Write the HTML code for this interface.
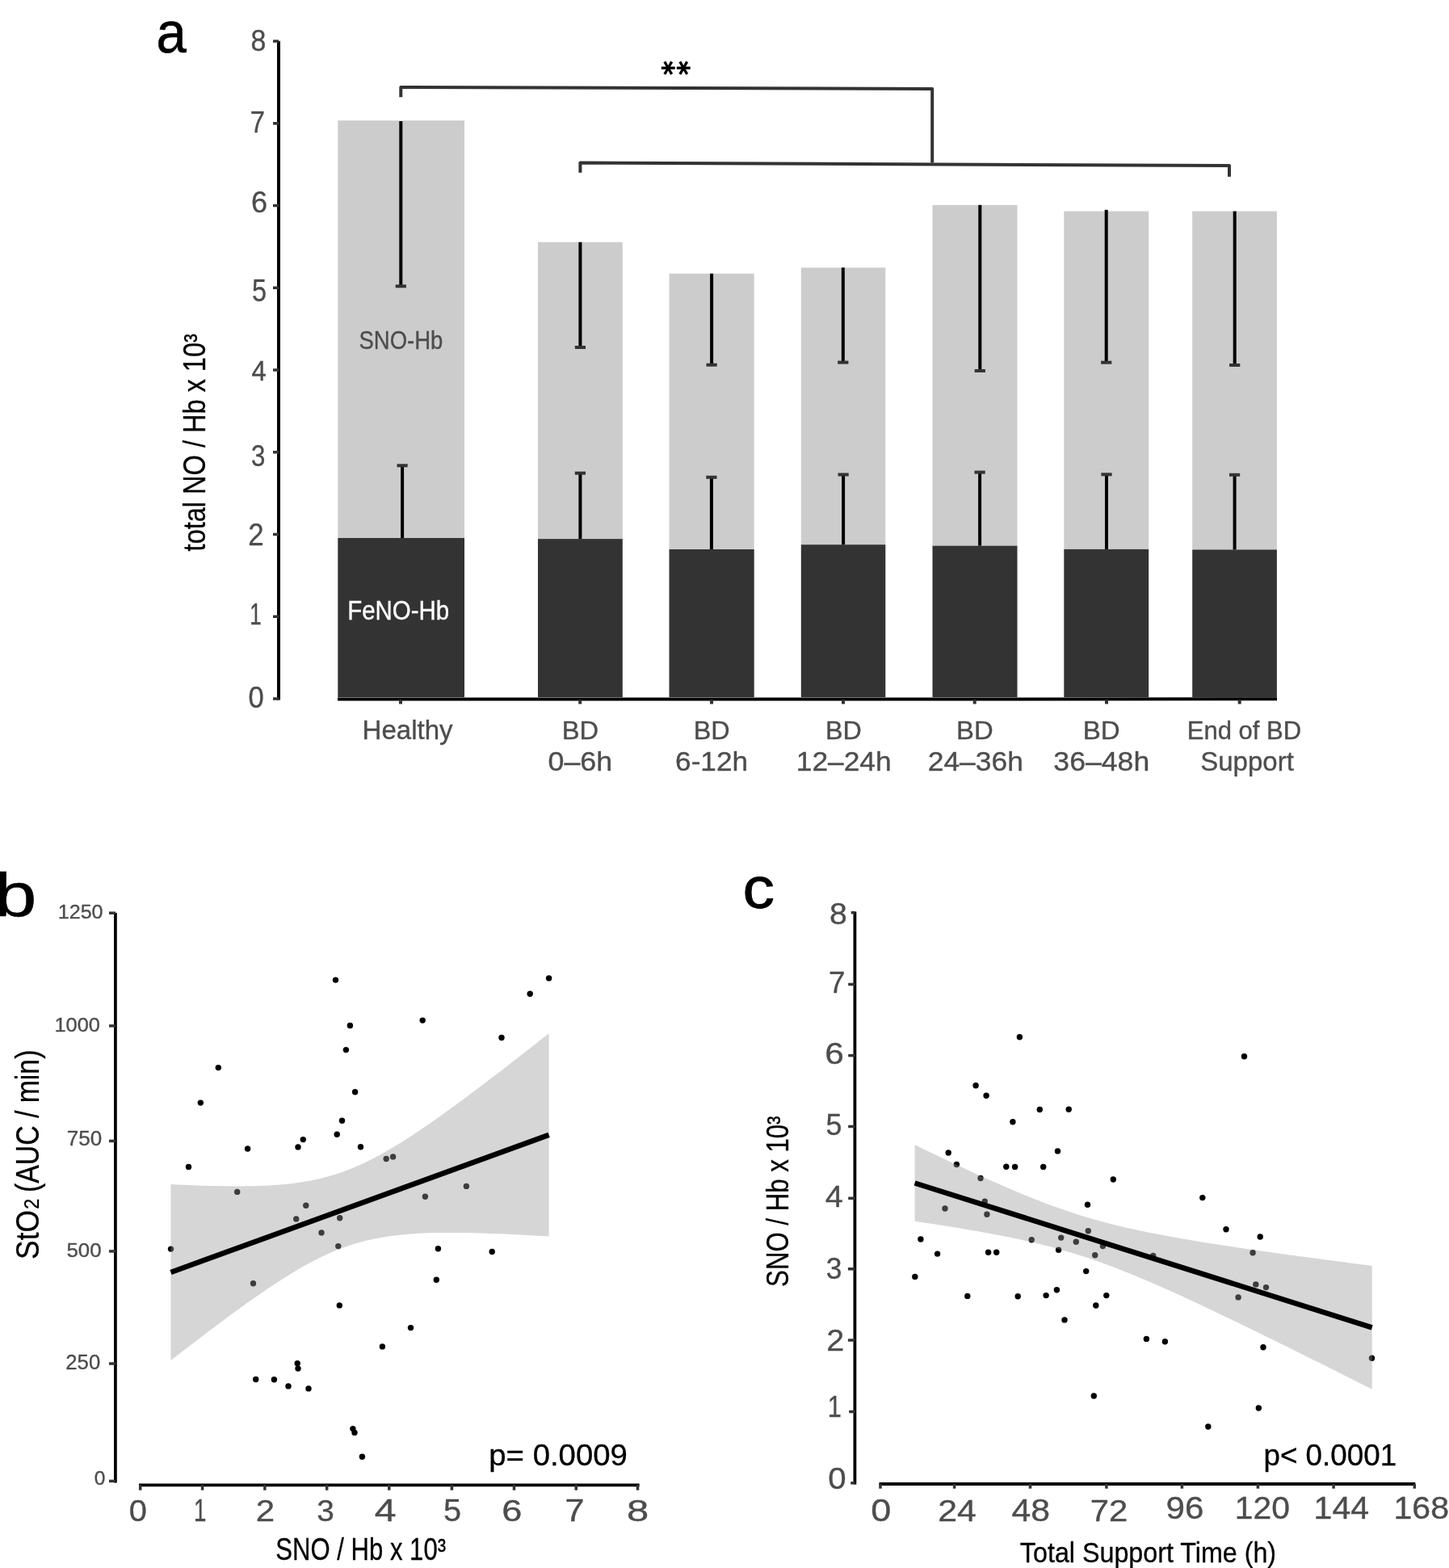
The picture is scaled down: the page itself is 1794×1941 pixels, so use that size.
<!DOCTYPE html>
<html><head><meta charset="utf-8"><title>Figure</title>
<style>html,body{margin:0;padding:0;background:#fff;}svg{display:block;}</style></head>
<body><svg width="1794" height="1941" viewBox="0 0 1794 1941" font-family="'Liberation Sans', sans-serif">
<rect width="1794" height="1941" fill="#fff"/>
<rect x="418.3" y="149.2" width="156.70" height="516.80" fill="#cccccc"/>
<rect x="418.3" y="666.0" width="156.70" height="197.10" fill="#333333"/>
<rect x="666.0" y="299.7" width="104.80" height="367.40" fill="#cccccc"/>
<rect x="666.0" y="667.1" width="104.80" height="196.00" fill="#333333"/>
<rect x="828.5" y="338.7" width="105.20" height="341.30" fill="#cccccc"/>
<rect x="828.5" y="680.0" width="105.20" height="183.10" fill="#333333"/>
<rect x="991.8" y="331.3" width="104.50" height="342.90" fill="#cccccc"/>
<rect x="991.8" y="674.2" width="104.50" height="188.90" fill="#333333"/>
<rect x="1154.5" y="253.8" width="105.00" height="421.80" fill="#cccccc"/>
<rect x="1154.5" y="675.6" width="105.00" height="187.50" fill="#333333"/>
<rect x="1317.3" y="261.5" width="104.90" height="418.40" fill="#cccccc"/>
<rect x="1317.3" y="679.9" width="104.90" height="183.20" fill="#333333"/>
<rect x="1476.2" y="261.5" width="104.70" height="418.90" fill="#cccccc"/>
<rect x="1476.2" y="680.4" width="104.70" height="182.70" fill="#333333"/>
<line x1="496.3" y1="149.9" x2="496.3" y2="354.3" stroke="#000" stroke-width="4"/>
<line x1="489.7" y1="354.3" x2="502.90000000000003" y2="354.3" stroke="#333333" stroke-width="4"/>
<line x1="718.4" y1="299.7" x2="718.4" y2="430.0" stroke="#000" stroke-width="4"/>
<line x1="711.8" y1="430.0" x2="725.0" y2="430.0" stroke="#333333" stroke-width="4"/>
<line x1="881.1" y1="338.7" x2="881.1" y2="451.7" stroke="#000" stroke-width="4"/>
<line x1="874.5" y1="451.7" x2="887.7" y2="451.7" stroke="#333333" stroke-width="4"/>
<line x1="1043.8" y1="331.3" x2="1043.8" y2="448.6" stroke="#000" stroke-width="4"/>
<line x1="1037.2" y1="448.6" x2="1050.3999999999999" y2="448.6" stroke="#333333" stroke-width="4"/>
<line x1="1213.3" y1="253.8" x2="1213.3" y2="459.0" stroke="#000" stroke-width="4"/>
<line x1="1206.7" y1="459.0" x2="1219.8999999999999" y2="459.0" stroke="#333333" stroke-width="4"/>
<line x1="1369.7" y1="259.7" x2="1369.7" y2="448.7" stroke="#000" stroke-width="4"/>
<line x1="1363.1000000000001" y1="448.7" x2="1376.3" y2="448.7" stroke="#333333" stroke-width="4"/>
<line x1="1528.7" y1="261.5" x2="1528.7" y2="452.0" stroke="#000" stroke-width="4"/>
<line x1="1522.1000000000001" y1="452.0" x2="1535.3" y2="452.0" stroke="#333333" stroke-width="4"/>
<line x1="498.1" y1="576.3" x2="498.1" y2="666.0" stroke="#000" stroke-width="4"/>
<line x1="491.5" y1="576.3" x2="504.70000000000005" y2="576.3" stroke="#333333" stroke-width="4"/>
<line x1="718.4" y1="585.7" x2="718.4" y2="667.1" stroke="#000" stroke-width="4"/>
<line x1="711.8" y1="585.7" x2="725.0" y2="585.7" stroke="#333333" stroke-width="4"/>
<line x1="880.9" y1="590.8" x2="880.9" y2="680.0" stroke="#000" stroke-width="4"/>
<line x1="874.3" y1="590.8" x2="887.5" y2="590.8" stroke="#333333" stroke-width="4"/>
<line x1="1044.1" y1="587.5" x2="1044.1" y2="674.2" stroke="#000" stroke-width="4"/>
<line x1="1037.5" y1="587.5" x2="1050.6999999999998" y2="587.5" stroke="#333333" stroke-width="4"/>
<line x1="1213.1" y1="584.6" x2="1213.1" y2="675.6" stroke="#000" stroke-width="4"/>
<line x1="1206.5" y1="584.6" x2="1219.6999999999998" y2="584.6" stroke="#333333" stroke-width="4"/>
<line x1="1370.0" y1="587.3" x2="1370.0" y2="679.9" stroke="#000" stroke-width="4"/>
<line x1="1363.4" y1="587.3" x2="1376.6" y2="587.3" stroke="#333333" stroke-width="4"/>
<line x1="1528.6" y1="587.8" x2="1528.6" y2="680.4" stroke="#000" stroke-width="4"/>
<line x1="1522.0" y1="587.8" x2="1535.1999999999998" y2="587.8" stroke="#333333" stroke-width="4"/>
<line x1="418" y1="865.6" x2="1581" y2="865.3" stroke="#000" stroke-width="4"/>
<line x1="496.0" y1="866" x2="496.0" y2="871.5" stroke="#333333" stroke-width="4"/>
<line x1="718.2" y1="866" x2="718.2" y2="871.5" stroke="#333333" stroke-width="4"/>
<line x1="881.0" y1="866" x2="881.0" y2="871.5" stroke="#333333" stroke-width="4"/>
<line x1="1044.0" y1="866" x2="1044.0" y2="871.5" stroke="#333333" stroke-width="4"/>
<line x1="1206.7" y1="866" x2="1206.7" y2="871.5" stroke="#333333" stroke-width="4"/>
<line x1="1370.0" y1="866" x2="1370.0" y2="871.5" stroke="#333333" stroke-width="4"/>
<line x1="1534.7" y1="866" x2="1534.7" y2="871.5" stroke="#333333" stroke-width="4"/>
<line x1="345" y1="50.8" x2="345" y2="866.5" stroke="#000" stroke-width="4"/>
<line x1="338" y1="865.00" x2="345" y2="865.00" stroke="#333333" stroke-width="3.5"/>
<line x1="338" y1="763.25" x2="345" y2="763.25" stroke="#333333" stroke-width="3.5"/>
<line x1="338" y1="661.50" x2="345" y2="661.50" stroke="#333333" stroke-width="3.5"/>
<line x1="338" y1="559.75" x2="345" y2="559.75" stroke="#333333" stroke-width="3.5"/>
<line x1="338" y1="458.00" x2="345" y2="458.00" stroke="#333333" stroke-width="3.5"/>
<line x1="338" y1="356.25" x2="345" y2="356.25" stroke="#333333" stroke-width="3.5"/>
<line x1="338" y1="254.50" x2="345" y2="254.50" stroke="#333333" stroke-width="3.5"/>
<line x1="338" y1="152.75" x2="345" y2="152.75" stroke="#333333" stroke-width="3.5"/>
<line x1="338" y1="51.00" x2="345" y2="51.00" stroke="#333333" stroke-width="3.5"/>
<path d="M496.3,120.2 V108 L1154.2,110 V201.6" fill="none" stroke="#333333" stroke-width="4" stroke-linejoin="round"/>
<path d="M718.4,213.8 V201.6 L1522,205 V218.7" fill="none" stroke="#333333" stroke-width="4" stroke-linejoin="round"/>
<circle cx="415.5" cy="1213.1" r="3.7" fill="#000"/>
<circle cx="433.4" cy="1269.5" r="3.7" fill="#000"/>
<circle cx="428.4" cy="1299.6" r="3.7" fill="#000"/>
<circle cx="270.3" cy="1321.6" r="3.7" fill="#000"/>
<circle cx="439.6" cy="1351.7" r="3.7" fill="#000"/>
<circle cx="248.3" cy="1365.1" r="3.7" fill="#000"/>
<circle cx="423.5" cy="1387.2" r="3.7" fill="#000"/>
<circle cx="417.2" cy="1404.3" r="3.7" fill="#000"/>
<circle cx="375.3" cy="1410.6" r="3.7" fill="#000"/>
<circle cx="306.6" cy="1422" r="3.7" fill="#000"/>
<circle cx="369" cy="1419.9" r="3.7" fill="#000"/>
<circle cx="446.5" cy="1419.7" r="3.7" fill="#000"/>
<circle cx="233.5" cy="1444.5" r="3.7" fill="#000"/>
<circle cx="679.6" cy="1210.9" r="3.7" fill="#000"/>
<circle cx="656.2" cy="1230.2" r="3.7" fill="#000"/>
<circle cx="523.2" cy="1263.1" r="3.7" fill="#000"/>
<circle cx="621" cy="1284.5" r="3.7" fill="#000"/>
<circle cx="420.3" cy="1615.9" r="3.7" fill="#000"/>
<circle cx="368.2" cy="1687.8" r="3.7" fill="#000"/>
<circle cx="369" cy="1694.1" r="3.7" fill="#000"/>
<circle cx="316.7" cy="1707.5" r="3.7" fill="#000"/>
<circle cx="339.4" cy="1707.8" r="3.7" fill="#000"/>
<circle cx="357" cy="1715.9" r="3.7" fill="#000"/>
<circle cx="382" cy="1718.9" r="3.7" fill="#000"/>
<circle cx="542.4" cy="1545.8" r="3.7" fill="#000"/>
<circle cx="609.2" cy="1549.5" r="3.7" fill="#000"/>
<circle cx="540.3" cy="1584.2" r="3.7" fill="#000"/>
<circle cx="508.5" cy="1643.6" r="3.7" fill="#000"/>
<circle cx="473.4" cy="1666.9" r="3.7" fill="#000"/>
<circle cx="436.9" cy="1768.6" r="3.7" fill="#000"/>
<circle cx="439" cy="1773.4" r="3.7" fill="#000"/>
<circle cx="448.4" cy="1803.3" r="3.7" fill="#000"/>
<circle cx="293.7" cy="1475.4" r="3.7" fill="#000"/>
<circle cx="478.2" cy="1434.5" r="3.7" fill="#000"/>
<circle cx="486.6" cy="1431.9" r="3.7" fill="#000"/>
<circle cx="577.4" cy="1468.4" r="3.7" fill="#000"/>
<circle cx="526.4" cy="1481.2" r="3.7" fill="#000"/>
<circle cx="378.8" cy="1492.2" r="3.7" fill="#000"/>
<circle cx="366.7" cy="1508.9" r="3.7" fill="#000"/>
<circle cx="420.7" cy="1507.8" r="3.7" fill="#000"/>
<circle cx="398" cy="1525.9" r="3.7" fill="#000"/>
<circle cx="418.8" cy="1542.6" r="3.7" fill="#000"/>
<circle cx="313.5" cy="1588.8" r="3.7" fill="#000"/>
<circle cx="211.5" cy="1546.1" r="3.7" fill="#000"/>
<path d="M211.50,1466.00 L219.30,1466.39 L227.10,1466.75 L234.91,1467.08 L242.71,1467.39 L250.51,1467.66 L258.31,1467.90 L266.11,1468.10 L273.91,1468.26 L281.72,1468.37 L289.52,1468.43 L297.32,1468.43 L305.12,1468.36 L312.92,1468.22 L320.72,1467.99 L328.52,1467.67 L336.33,1467.25 L344.13,1466.71 L351.93,1466.04 L359.73,1465.22 L367.53,1464.24 L375.34,1463.08 L383.14,1461.73 L390.94,1460.16 L398.74,1458.36 L406.54,1456.31 L414.34,1454.00 L422.14,1451.43 L429.95,1448.58 L437.75,1445.46 L445.55,1442.07 L453.35,1438.43 L461.15,1434.54 L468.96,1430.42 L476.76,1426.09 L484.56,1421.56 L492.36,1416.85 L500.16,1411.99 L507.96,1406.97 L515.77,1401.83 L523.57,1396.58 L531.37,1391.22 L539.17,1385.76 L546.97,1380.23 L554.77,1374.62 L562.58,1368.95 L570.38,1363.22 L578.18,1357.43 L585.98,1351.60 L593.78,1345.73 L601.58,1339.82 L609.38,1333.87 L617.19,1327.89 L624.99,1321.88 L632.79,1315.85 L640.59,1309.79 L648.39,1303.71 L656.19,1297.61 L664.00,1291.49 L671.80,1285.36 L679.60,1279.21 L679.60,1530.59 L671.80,1530.11 L664.00,1529.65 L656.19,1529.20 L648.39,1528.77 L640.59,1528.36 L632.79,1527.97 L624.99,1527.61 L617.19,1527.27 L609.38,1526.96 L601.58,1526.68 L593.78,1526.44 L585.98,1526.24 L578.18,1526.08 L570.38,1525.96 L562.58,1525.90 L554.77,1525.90 L546.97,1525.96 L539.17,1526.10 L531.37,1526.31 L523.57,1526.62 L515.77,1527.04 L507.96,1527.57 L500.16,1528.22 L492.36,1529.03 L484.56,1529.99 L476.76,1531.13 L468.96,1532.47 L461.15,1534.02 L453.35,1535.80 L445.55,1537.83 L437.75,1540.11 L429.95,1542.66 L422.14,1545.48 L414.34,1548.58 L406.54,1551.94 L398.74,1555.56 L390.94,1559.43 L383.14,1563.53 L375.34,1567.85 L367.53,1572.36 L359.73,1577.05 L351.93,1581.90 L344.13,1586.90 L336.33,1592.03 L328.52,1597.28 L320.72,1602.63 L312.92,1608.07 L305.12,1613.60 L297.32,1619.20 L289.52,1624.87 L281.72,1630.60 L273.91,1636.38 L266.11,1642.21 L258.31,1648.08 L250.51,1653.99 L242.71,1659.93 L234.91,1665.91 L227.10,1671.91 L219.30,1677.94 L211.50,1684.00 Z" fill="#999999" fill-opacity="0.4"/>
<line x1="211.5" y1="1575" x2="679.6" y2="1404.9" stroke="#000" stroke-width="6.5"/>
<line x1="142.9" y1="1130" x2="142.9" y2="1835.5" stroke="#000" stroke-width="3.8"/>
<line x1="135" y1="1130.2" x2="143" y2="1130.2" stroke="#333333" stroke-width="3.5"/>
<line x1="135" y1="1269.9" x2="143" y2="1269.9" stroke="#333333" stroke-width="3.5"/>
<line x1="135" y1="1412.4" x2="143" y2="1412.4" stroke="#333333" stroke-width="3.5"/>
<line x1="135" y1="1548.9" x2="143" y2="1548.9" stroke="#333333" stroke-width="3.5"/>
<line x1="135" y1="1688.0" x2="143" y2="1688.0" stroke="#333333" stroke-width="3.5"/>
<line x1="135" y1="1833.4" x2="143" y2="1833.4" stroke="#333333" stroke-width="3.5"/>
<line x1="172" y1="1838.3" x2="791.6" y2="1838.3" stroke="#000" stroke-width="3.8"/>
<line x1="173.7" y1="1838" x2="173.7" y2="1844.7" stroke="#333333" stroke-width="3.5"/>
<line x1="250.6" y1="1838" x2="250.6" y2="1844.7" stroke="#333333" stroke-width="3.5"/>
<line x1="327.9" y1="1838" x2="327.9" y2="1844.7" stroke="#333333" stroke-width="3.5"/>
<line x1="404.7" y1="1838" x2="404.7" y2="1844.7" stroke="#333333" stroke-width="3.5"/>
<line x1="481.8" y1="1838" x2="481.8" y2="1844.7" stroke="#333333" stroke-width="3.5"/>
<line x1="559.4" y1="1838" x2="559.4" y2="1844.7" stroke="#333333" stroke-width="3.5"/>
<line x1="636.5" y1="1838" x2="636.5" y2="1844.7" stroke="#333333" stroke-width="3.5"/>
<line x1="713.2" y1="1838" x2="713.2" y2="1844.7" stroke="#333333" stroke-width="3.5"/>
<line x1="789.5" y1="1838" x2="789.5" y2="1844.7" stroke="#333333" stroke-width="3.5"/>
<circle cx="1262.4" cy="1283.8" r="3.7" fill="#000"/>
<circle cx="1208.1" cy="1343.7" r="3.7" fill="#000"/>
<circle cx="1221.1" cy="1356.2" r="3.7" fill="#000"/>
<circle cx="1287.3" cy="1373.5" r="3.7" fill="#000"/>
<circle cx="1323.2" cy="1373.2" r="3.7" fill="#000"/>
<circle cx="1253.9" cy="1388.8" r="3.7" fill="#000"/>
<circle cx="1174.2" cy="1427" r="3.7" fill="#000"/>
<circle cx="1309.5" cy="1424.9" r="3.7" fill="#000"/>
<circle cx="1245.8" cy="1444.3" r="3.7" fill="#000"/>
<circle cx="1256.6" cy="1444.4" r="3.7" fill="#000"/>
<circle cx="1291.7" cy="1444.4" r="3.7" fill="#000"/>
<circle cx="1378.3" cy="1460" r="3.7" fill="#000"/>
<circle cx="1346.5" cy="1491.2" r="3.7" fill="#000"/>
<circle cx="1139.9" cy="1534" r="3.7" fill="#000"/>
<circle cx="1160.6" cy="1552.1" r="3.7" fill="#000"/>
<circle cx="1223.6" cy="1550.2" r="3.7" fill="#000"/>
<circle cx="1233.7" cy="1550.2" r="3.7" fill="#000"/>
<circle cx="1132.8" cy="1580.4" r="3.7" fill="#000"/>
<circle cx="1197.8" cy="1604.4" r="3.7" fill="#000"/>
<circle cx="1260.2" cy="1604.8" r="3.7" fill="#000"/>
<circle cx="1295.1" cy="1603.6" r="3.7" fill="#000"/>
<circle cx="1308.4" cy="1596.8" r="3.7" fill="#000"/>
<circle cx="1344.7" cy="1573.6" r="3.7" fill="#000"/>
<circle cx="1369.8" cy="1603.6" r="3.7" fill="#000"/>
<circle cx="1356.8" cy="1616" r="3.7" fill="#000"/>
<circle cx="1318" cy="1633.9" r="3.7" fill="#000"/>
<circle cx="1354.3" cy="1728" r="3.7" fill="#000"/>
<circle cx="1540.5" cy="1307.8" r="3.7" fill="#000"/>
<circle cx="1488.8" cy="1482.6" r="3.7" fill="#000"/>
<circle cx="1518" cy="1521.8" r="3.7" fill="#000"/>
<circle cx="1560.2" cy="1531" r="3.7" fill="#000"/>
<circle cx="1419.4" cy="1657.4" r="3.7" fill="#000"/>
<circle cx="1442.4" cy="1660.7" r="3.7" fill="#000"/>
<circle cx="1564" cy="1667.7" r="3.7" fill="#000"/>
<circle cx="1558.3" cy="1743" r="3.7" fill="#000"/>
<circle cx="1495.8" cy="1766" r="3.7" fill="#000"/>
<circle cx="1184.4" cy="1441.5" r="3.7" fill="#000"/>
<circle cx="1214" cy="1458.5" r="3.7" fill="#000"/>
<circle cx="1219.3" cy="1487.1" r="3.7" fill="#000"/>
<circle cx="1170" cy="1496" r="3.7" fill="#000"/>
<circle cx="1221.9" cy="1503.3" r="3.7" fill="#000"/>
<circle cx="1347.3" cy="1523.7" r="3.7" fill="#000"/>
<circle cx="1277.2" cy="1534.8" r="3.7" fill="#000"/>
<circle cx="1313.7" cy="1532.1" r="3.7" fill="#000"/>
<circle cx="1332.3" cy="1537.2" r="3.7" fill="#000"/>
<circle cx="1365.4" cy="1542.6" r="3.7" fill="#000"/>
<circle cx="1310.6" cy="1547.2" r="3.7" fill="#000"/>
<circle cx="1355.7" cy="1553.8" r="3.7" fill="#000"/>
<circle cx="1551.1" cy="1550.7" r="3.7" fill="#000"/>
<circle cx="1427.7" cy="1554.5" r="3.7" fill="#000"/>
<circle cx="1554.8" cy="1589.9" r="3.7" fill="#000"/>
<circle cx="1567.5" cy="1593.6" r="3.7" fill="#000"/>
<circle cx="1533.1" cy="1605.9" r="3.7" fill="#000"/>
<circle cx="1698.5" cy="1681.3" r="3.7" fill="#000"/>
<path d="M1132.60,1417.19 L1142.03,1421.75 L1151.47,1426.30 L1160.90,1430.81 L1170.34,1435.30 L1179.77,1439.75 L1189.21,1444.18 L1198.64,1448.56 L1208.08,1452.90 L1217.51,1457.18 L1226.95,1461.42 L1236.38,1465.59 L1245.82,1469.70 L1255.25,1473.72 L1264.69,1477.67 L1274.12,1481.52 L1283.56,1485.26 L1292.99,1488.90 L1302.43,1492.41 L1311.87,1495.80 L1321.30,1499.05 L1330.73,1502.17 L1340.17,1505.14 L1349.61,1507.97 L1359.04,1510.67 L1368.47,1513.23 L1377.91,1515.66 L1387.35,1517.97 L1396.78,1520.18 L1406.21,1522.28 L1415.65,1524.29 L1425.09,1526.21 L1434.52,1528.06 L1443.95,1529.84 L1453.39,1531.56 L1462.83,1533.23 L1472.26,1534.85 L1481.69,1536.42 L1491.13,1537.95 L1500.57,1539.46 L1510.00,1540.93 L1519.43,1542.37 L1528.87,1543.78 L1538.31,1545.18 L1547.74,1546.55 L1557.17,1547.91 L1566.61,1549.25 L1576.05,1550.57 L1585.48,1551.88 L1594.91,1553.17 L1604.35,1554.46 L1613.79,1555.73 L1623.22,1557.00 L1632.65,1558.26 L1642.09,1559.50 L1651.53,1560.74 L1660.96,1561.98 L1670.39,1563.20 L1679.83,1564.42 L1689.27,1565.64 L1698.70,1566.85 L1698.70,1719.75 L1689.27,1715.00 L1679.83,1710.26 L1670.39,1705.52 L1660.96,1700.78 L1651.53,1696.06 L1642.09,1691.34 L1632.65,1686.62 L1623.22,1681.92 L1613.79,1677.23 L1604.35,1672.54 L1594.91,1667.87 L1585.48,1663.20 L1576.05,1658.55 L1566.61,1653.91 L1557.17,1649.29 L1547.74,1644.69 L1538.31,1640.10 L1528.87,1635.54 L1519.43,1630.99 L1510.00,1626.47 L1500.57,1621.98 L1491.13,1617.53 L1481.69,1613.10 L1472.26,1608.71 L1462.83,1604.37 L1453.39,1600.08 L1443.95,1595.84 L1434.52,1591.66 L1425.09,1587.55 L1415.65,1583.51 L1406.21,1579.56 L1396.78,1575.70 L1387.35,1571.95 L1377.91,1568.30 L1368.47,1564.77 L1359.04,1561.37 L1349.61,1558.11 L1340.17,1554.98 L1330.73,1551.99 L1321.30,1549.15 L1311.87,1546.44 L1302.43,1543.87 L1292.99,1541.42 L1283.56,1539.10 L1274.12,1536.88 L1264.69,1534.77 L1255.25,1532.76 L1245.82,1530.82 L1236.38,1528.97 L1226.95,1527.18 L1217.51,1525.46 L1208.08,1523.78 L1198.64,1522.16 L1189.21,1520.58 L1179.77,1519.05 L1170.34,1517.54 L1160.90,1516.07 L1151.47,1514.62 L1142.03,1513.21 L1132.60,1511.81 Z" fill="#999999" fill-opacity="0.4"/>
<line x1="1132.6" y1="1464.5" x2="1698.7" y2="1643.3" stroke="#000" stroke-width="6.5"/>
<line x1="1058.4" y1="1128.5" x2="1058.4" y2="1837.5" stroke="#000" stroke-width="3.8"/>
<line x1="1053.7" y1="1129.7" x2="1058.5" y2="1129.7" stroke="#333333" stroke-width="3.5"/>
<line x1="1050.2" y1="1218.5" x2="1058.5" y2="1218.5" stroke="#333333" stroke-width="3.5"/>
<line x1="1050.2" y1="1306.6" x2="1058.5" y2="1306.6" stroke="#333333" stroke-width="3.5"/>
<line x1="1050.2" y1="1394.5" x2="1058.5" y2="1394.5" stroke="#333333" stroke-width="3.5"/>
<line x1="1050.2" y1="1483.3" x2="1058.5" y2="1483.3" stroke="#333333" stroke-width="3.5"/>
<line x1="1049.9" y1="1570.8" x2="1058.5" y2="1570.8" stroke="#333333" stroke-width="3.5"/>
<line x1="1049.9" y1="1659.0" x2="1058.5" y2="1659.0" stroke="#333333" stroke-width="3.5"/>
<line x1="1051.2" y1="1747.5" x2="1058.5" y2="1747.5" stroke="#333333" stroke-width="3.5"/>
<line x1="1053.2" y1="1835.8" x2="1058.5" y2="1835.8" stroke="#333333" stroke-width="3.5"/>
<line x1="1088.5" y1="1837" x2="1752.3" y2="1837" stroke="#000" stroke-width="3.8"/>
<line x1="1090" y1="1837" x2="1090" y2="1842.7" stroke="#333333" stroke-width="3.5"/>
<line x1="1181.6" y1="1837" x2="1181.6" y2="1842.7" stroke="#333333" stroke-width="3.5"/>
<line x1="1275.5" y1="1837" x2="1275.5" y2="1842.7" stroke="#333333" stroke-width="3.5"/>
<line x1="1369.9" y1="1837" x2="1369.9" y2="1842.7" stroke="#333333" stroke-width="3.5"/>
<line x1="1463.4" y1="1837" x2="1463.4" y2="1842.7" stroke="#333333" stroke-width="3.5"/>
<line x1="1557.4" y1="1837" x2="1557.4" y2="1842.7" stroke="#333333" stroke-width="3.5"/>
<line x1="1651.1" y1="1837" x2="1651.1" y2="1842.7" stroke="#333333" stroke-width="3.5"/>
<line x1="1751.3" y1="1837" x2="1751.3" y2="1842.7" stroke="#333333" stroke-width="3.5"/>
<text x="193.45" y="65.48" font-size="71.96" textLength="37.33" lengthAdjust="spacingAndGlyphs" fill="#000" stroke="#000" stroke-width="0.6">a</text>
<text x="-6.92" y="1133.59" font-size="76.19" textLength="52.40" lengthAdjust="spacingAndGlyphs" fill="#000" stroke="#000" stroke-width="0.5">b</text>
<text x="919.45" y="1123.98" font-size="71.60" textLength="39.42" lengthAdjust="spacingAndGlyphs" fill="#000" stroke="#000" stroke-width="0.8">c</text>
<text x="819.27" y="101.87" font-size="34.5" font-family="'DejaVu Sans', sans-serif" fill="#000" stroke="#000" stroke-width="1.5" transform="rotate(90 827.9 84.1)">*</text>
<text x="838.08" y="101.87" font-size="34.5" font-family="'DejaVu Sans', sans-serif" fill="#000" stroke="#000" stroke-width="1.5" transform="rotate(90 846.7 84.1)">*</text>
<text x="310.56" y="63.40" font-size="37.56" textLength="18.82" lengthAdjust="spacingAndGlyphs" fill="#4d4d4d" stroke="#4d4d4d" stroke-width="0.35">8</text>
<text x="309.68" y="163.60" font-size="37.82" textLength="18.19" lengthAdjust="spacingAndGlyphs" fill="#4d4d4d" stroke="#4d4d4d" stroke-width="0.35">7</text>
<text x="310.89" y="263.00" font-size="37.85" textLength="20.08" lengthAdjust="spacingAndGlyphs" fill="#4d4d4d" stroke="#4d4d4d" stroke-width="0.35">6</text>
<text x="311.90" y="372.90" font-size="38.40" textLength="18.03" lengthAdjust="spacingAndGlyphs" fill="#4d4d4d" stroke="#4d4d4d" stroke-width="0.35">5</text>
<text x="311.46" y="470.70" font-size="35.93" textLength="18.17" lengthAdjust="spacingAndGlyphs" fill="#4d4d4d" stroke="#4d4d4d" stroke-width="0.35">4</text>
<text x="311.03" y="577.10" font-size="36.70" textLength="17.33" lengthAdjust="spacingAndGlyphs" fill="#4d4d4d" stroke="#4d4d4d" stroke-width="0.35">3</text>
<text x="307.15" y="675.00" font-size="38.71" textLength="19.44" lengthAdjust="spacingAndGlyphs" fill="#4d4d4d" stroke="#4d4d4d" stroke-width="0.35">2</text>
<text x="309.36" y="772.80" font-size="36.36" textLength="14.40" lengthAdjust="spacingAndGlyphs" fill="#4d4d4d" stroke="#4d4d4d" stroke-width="0.35">1</text>
<text x="307.52" y="875.80" font-size="37.71" textLength="19.22" lengthAdjust="spacingAndGlyphs" fill="#4d4d4d" stroke="#4d4d4d" stroke-width="0.35">0</text>
<text transform="translate(254.10,682.39) rotate(-90)" x="0" y="0" font-size="39.13" textLength="269.27" lengthAdjust="spacingAndGlyphs" fill="#000" stroke="#000" stroke-width="0.3">total NO / Hb x 10³</text>
<text x="444.46" y="431.90" font-size="31.85" textLength="103.86" lengthAdjust="spacingAndGlyphs" fill="#4d4d4d" stroke="#4d4d4d" stroke-width="0.35">SNO-Hb</text>
<text x="430.17" y="766.50" font-size="32.73" textLength="126.04" lengthAdjust="spacingAndGlyphs" fill="#fff" stroke="#fff" stroke-width="0.35">FeNO-Hb</text>
<text x="448.57" y="914.60" font-size="32.44" textLength="112.03" lengthAdjust="spacingAndGlyphs" fill="#4d4d4d" stroke="#4d4d4d" stroke-width="0.35">Healthy</text>
<text x="695.80" y="914.60" font-size="31.27" textLength="45.42" lengthAdjust="spacingAndGlyphs" fill="#4d4d4d" stroke="#4d4d4d" stroke-width="0.35">BD</text>
<text x="858.84" y="914.60" font-size="31.27" textLength="44.87" lengthAdjust="spacingAndGlyphs" fill="#4d4d4d" stroke="#4d4d4d" stroke-width="0.35">BD</text>
<text x="1021.94" y="914.60" font-size="31.27" textLength="44.76" lengthAdjust="spacingAndGlyphs" fill="#4d4d4d" stroke="#4d4d4d" stroke-width="0.35">BD</text>
<text x="1184.09" y="914.60" font-size="31.27" textLength="45.64" lengthAdjust="spacingAndGlyphs" fill="#4d4d4d" stroke="#4d4d4d" stroke-width="0.35">BD</text>
<text x="1340.67" y="914.60" font-size="31.27" textLength="45.98" lengthAdjust="spacingAndGlyphs" fill="#4d4d4d" stroke="#4d4d4d" stroke-width="0.35">BD</text>
<text x="1469.84" y="914.60" font-size="31.27" textLength="141.35" lengthAdjust="spacingAndGlyphs" fill="#4d4d4d" stroke="#4d4d4d" stroke-width="0.35">End of BD</text>
<text x="678.47" y="953.70" font-size="33.26" textLength="79.64" lengthAdjust="spacingAndGlyphs" fill="#4d4d4d" stroke="#4d4d4d" stroke-width="0.35">0–6h</text>
<text x="836.14" y="953.70" font-size="33.26" textLength="89.85" lengthAdjust="spacingAndGlyphs" fill="#4d4d4d" stroke="#4d4d4d" stroke-width="0.35">6-12h</text>
<text x="985.75" y="953.70" font-size="33.26" textLength="117.92" lengthAdjust="spacingAndGlyphs" fill="#4d4d4d" stroke="#4d4d4d" stroke-width="0.35">12–24h</text>
<text x="1148.73" y="953.70" font-size="33.26" textLength="118.14" lengthAdjust="spacingAndGlyphs" fill="#4d4d4d" stroke="#4d4d4d" stroke-width="0.35">24–36h</text>
<text x="1304.36" y="953.70" font-size="33.26" textLength="118.82" lengthAdjust="spacingAndGlyphs" fill="#4d4d4d" stroke="#4d4d4d" stroke-width="0.35">36–48h</text>
<text x="1486.21" y="953.70" font-size="33.75" textLength="115.63" lengthAdjust="spacingAndGlyphs" fill="#4d4d4d" stroke="#4d4d4d" stroke-width="0.35">Support</text>
<text x="71.72" y="1137.40" font-size="24.23" textLength="55.88" lengthAdjust="spacingAndGlyphs" fill="#4d4d4d" stroke="#4d4d4d" stroke-width="0.35">1250</text>
<text x="67.50" y="1276.60" font-size="24.80" textLength="56.41" lengthAdjust="spacingAndGlyphs" fill="#4d4d4d" stroke="#4d4d4d" stroke-width="0.35">1000</text>
<text x="82.83" y="1418.30" font-size="25.38" textLength="43.47" lengthAdjust="spacingAndGlyphs" fill="#4d4d4d" stroke="#4d4d4d" stroke-width="0.35">750</text>
<text x="82.47" y="1555.90" font-size="24.66" textLength="43.02" lengthAdjust="spacingAndGlyphs" fill="#4d4d4d" stroke="#4d4d4d" stroke-width="0.35">500</text>
<text x="81.32" y="1695.40" font-size="24.95" textLength="42.87" lengthAdjust="spacingAndGlyphs" fill="#4d4d4d" stroke="#4d4d4d" stroke-width="0.35">250</text>
<text x="116.72" y="1838.00" font-size="23.23" textLength="13.63" lengthAdjust="spacingAndGlyphs" fill="#4d4d4d" stroke="#4d4d4d" stroke-width="0.35">0</text>
<text x="159.81" y="1883.00" font-size="37.56" textLength="22.13" lengthAdjust="spacingAndGlyphs" fill="#4d4d4d" stroke="#4d4d4d" stroke-width="0.35">0</text>
<text x="239.92" y="1883.00" font-size="38.11" textLength="15.43" lengthAdjust="spacingAndGlyphs" fill="#4d4d4d" stroke="#4d4d4d" stroke-width="0.35">1</text>
<text x="316.80" y="1883.00" font-size="37.56" textLength="23.35" lengthAdjust="spacingAndGlyphs" fill="#4d4d4d" stroke="#4d4d4d" stroke-width="0.35">2</text>
<text x="392.25" y="1883.00" font-size="37.56" textLength="21.54" lengthAdjust="spacingAndGlyphs" fill="#4d4d4d" stroke="#4d4d4d" stroke-width="0.35">3</text>
<text x="463.81" y="1883.00" font-size="38.11" textLength="26.87" lengthAdjust="spacingAndGlyphs" fill="#4d4d4d" stroke="#4d4d4d" stroke-width="0.35">4</text>
<text x="549.11" y="1883.00" font-size="38.11" textLength="22.13" lengthAdjust="spacingAndGlyphs" fill="#4d4d4d" stroke="#4d4d4d" stroke-width="0.35">5</text>
<text x="621.24" y="1883.00" font-size="37.56" textLength="25.13" lengthAdjust="spacingAndGlyphs" fill="#4d4d4d" stroke="#4d4d4d" stroke-width="0.35">6</text>
<text x="699.64" y="1883.00" font-size="38.11" textLength="23.97" lengthAdjust="spacingAndGlyphs" fill="#4d4d4d" stroke="#4d4d4d" stroke-width="0.35">7</text>
<text x="775.92" y="1883.00" font-size="37.56" textLength="27.22" lengthAdjust="spacingAndGlyphs" fill="#4d4d4d" stroke="#4d4d4d" stroke-width="0.35">8</text>
<text transform="translate(48.00,1558.89) rotate(-90)" x="0" y="0" font-size="39.85" textLength="60.88" lengthAdjust="spacingAndGlyphs" fill="#000" stroke="#000" stroke-width="0.3">StO</text>
<text transform="translate(47.60,1496.66) rotate(-90)" x="0" y="0" font-size="25.23" textLength="12.96" lengthAdjust="spacingAndGlyphs" fill="#000" stroke="#000" stroke-width="0.3">2</text>
<text transform="translate(48.00,1476.01) rotate(-90)" x="0" y="0" font-size="39.85" textLength="176.42" lengthAdjust="spacingAndGlyphs" fill="#000" stroke="#000" stroke-width="0.3">(AUC / min)</text>
<text x="605.31" y="1813.80" font-size="36.99" textLength="171.58" lengthAdjust="spacingAndGlyphs" fill="#000" stroke="#000" stroke-width="0.3">p= 0.0009</text>
<text x="341.30" y="1930.60" font-size="38.11" textLength="210.72" lengthAdjust="spacingAndGlyphs" fill="#000" stroke="#000" stroke-width="0.3">SNO / Hb x 10³</text>
<text x="1027.14" y="1143.60" font-size="37.13" textLength="21.77" lengthAdjust="spacingAndGlyphs" fill="#4d4d4d" stroke="#4d4d4d" stroke-width="0.35">8</text>
<text x="1026.07" y="1228.50" font-size="37.09" textLength="20.40" lengthAdjust="spacingAndGlyphs" fill="#4d4d4d" stroke="#4d4d4d" stroke-width="0.35">7</text>
<text x="1021.28" y="1316.70" font-size="37.71" textLength="23.57" lengthAdjust="spacingAndGlyphs" fill="#4d4d4d" stroke="#4d4d4d" stroke-width="0.35">6</text>
<text x="1022.57" y="1404.80" font-size="36.51" textLength="19.91" lengthAdjust="spacingAndGlyphs" fill="#4d4d4d" stroke="#4d4d4d" stroke-width="0.35">5</text>
<text x="1021.81" y="1493.60" font-size="37.38" textLength="22.03" lengthAdjust="spacingAndGlyphs" fill="#4d4d4d" stroke="#4d4d4d" stroke-width="0.35">4</text>
<text x="1022.67" y="1583.20" font-size="37.85" textLength="19.67" lengthAdjust="spacingAndGlyphs" fill="#4d4d4d" stroke="#4d4d4d" stroke-width="0.35">3</text>
<text x="1023.32" y="1671.80" font-size="37.13" textLength="22.00" lengthAdjust="spacingAndGlyphs" fill="#4d4d4d" stroke="#4d4d4d" stroke-width="0.35">2</text>
<text x="1024.69" y="1753.70" font-size="36.51" textLength="17.10" lengthAdjust="spacingAndGlyphs" fill="#4d4d4d" stroke="#4d4d4d" stroke-width="0.35">1</text>
<text x="1025.39" y="1843.20" font-size="37.13" textLength="22.36" lengthAdjust="spacingAndGlyphs" fill="#4d4d4d" stroke="#4d4d4d" stroke-width="0.35">0</text>
<text x="1078.20" y="1882.70" font-size="38.28" textLength="25.04" lengthAdjust="spacingAndGlyphs" fill="#4d4d4d" stroke="#4d4d4d" stroke-width="0.35">0</text>
<text x="1161.16" y="1882.70" font-size="37.42" textLength="47.62" lengthAdjust="spacingAndGlyphs" fill="#4d4d4d" stroke="#4d4d4d" stroke-width="0.35">24</text>
<text x="1252.64" y="1882.70" font-size="38.28" textLength="47.47" lengthAdjust="spacingAndGlyphs" fill="#4d4d4d" stroke="#4d4d4d" stroke-width="0.35">48</text>
<text x="1349.81" y="1882.70" font-size="37.42" textLength="46.48" lengthAdjust="spacingAndGlyphs" fill="#4d4d4d" stroke="#4d4d4d" stroke-width="0.35">72</text>
<text x="1443.60" y="1879.70" font-size="38.28" textLength="46.89" lengthAdjust="spacingAndGlyphs" fill="#4d4d4d" stroke="#4d4d4d" stroke-width="0.35">96</text>
<text x="1528.83" y="1879.70" font-size="38.28" textLength="68.24" lengthAdjust="spacingAndGlyphs" fill="#4d4d4d" stroke="#4d4d4d" stroke-width="0.35">120</text>
<text x="1626.62" y="1879.70" font-size="38.55" textLength="68.45" lengthAdjust="spacingAndGlyphs" fill="#4d4d4d" stroke="#4d4d4d" stroke-width="0.35">144</text>
<text x="1725.52" y="1879.70" font-size="38.28" textLength="68.46" lengthAdjust="spacingAndGlyphs" fill="#4d4d4d" stroke="#4d4d4d" stroke-width="0.35">168</text>
<text transform="translate(975.70,1592.90) rotate(-90)" x="0" y="0" font-size="38.40" textLength="211.33" lengthAdjust="spacingAndGlyphs" fill="#000" stroke="#000" stroke-width="0.3">SNO / Hb x 10³</text>
<text x="1564.41" y="1813.80" font-size="36.99" textLength="164.80" lengthAdjust="spacingAndGlyphs" fill="#000" stroke="#000" stroke-width="0.3">p&lt; 0.0001</text>
<text x="1262.87" y="1934.20" font-size="35.49" textLength="317.25" lengthAdjust="spacingAndGlyphs" fill="#000" stroke="#000" stroke-width="0.3">Total Support Time (h)</text>
</svg></body></html>
